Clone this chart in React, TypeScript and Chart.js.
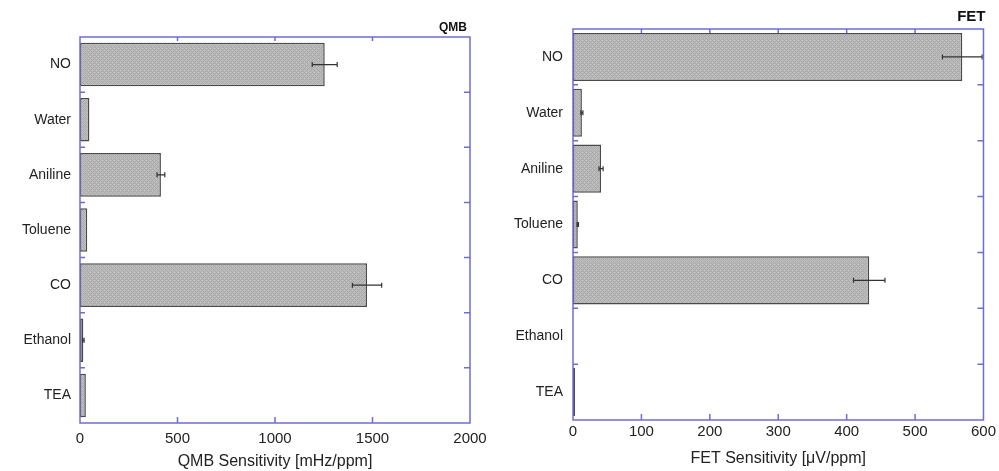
import React, { useEffect, useRef } from "react";
import { Chart, registerables } from "chart.js";

Chart.register(...registerables);

const CATEGORIES = ["NO", "Water", "Aniline", "Toluene", "CO", "Ethanol", "TEA"];

const QMB_VALUES = [1255, 48, 415, 37, 1472, 17, 30];
const QMB_ERRORS = [64, 0, 20, 0, 75, 4, 0];
const QMB_MAX = 2000;
const QMB_STEP = 500;

const FET_VALUES = [569, 13, 41, 7, 433, 0, 3];
const FET_ERRORS = [29, 1.5, 3, 1, 23, 0, 0];
const FET_MAX = 600;
const FET_STEP = 100;

const FONT = "'Liberation Sans', Arial, Helvetica, sans-serif";
const FRAME = "#6d6dd2";

function makePattern(): CanvasPattern | string {
  const c = document.createElement("canvas");
  c.width = 4;
  c.height = 4;
  const g = c.getContext("2d");
  if (!g) return "#b5b5b5";
  g.fillStyle = "#bcbcbc";
  g.fillRect(0, 0, 4, 4);
  g.fillStyle = "#a9a9a9";
  for (let x = 0; x < 4; x++) {
    for (let y = 0; y < 4; y++) {
      if ((x + y) % 4 === 0 || (x - y + 4) % 4 === 0) g.fillRect(x, y, 1, 1);
    }
  }
  const p = g.createPattern(c, "repeat");
  return p || "#b5b5b5";
}

type PanelCfg = {
  width: number;
  height: number;
  values: number[];
  errors: number[];
  max: number;
  step: number;
  axisTitle: string;
  title: string;
  titleSize: number;
  titleDx: number;
  titleY: number;
  yAxisWidth: number;
  padTop: number;
  padRight: number;
  xAxisHeight: number;
  tickPad: number;
  titlePadBottom: number;
  barPct: number;
  labelPad: number;
};

function Panel({ cfg, left }: { cfg: PanelCfg; left: number }) {
  const ref = useRef<HTMLCanvasElement | null>(null);
  useEffect(() => {
    const canvas = ref.current;
    if (!canvas) return;

    const overlay = {
      id: "overlay",
      afterDatasetsDraw(chart: any) {
        const ctx = chart.ctx;
        const xs = chart.scales.x;
        const ys = chart.scales.y;
        ctx.save();
        ctx.strokeStyle = "#333333";
        ctx.lineWidth = 1.2;
        cfg.values.forEach((v, i) => {
          const e = cfg.errors[i];
          if (!e) return;
          const y = ys.getPixelForValue(i);
          const x1 = xs.getPixelForValue(v - e);
          const x2 = xs.getPixelForValue(v + e);
          ctx.beginPath();
          ctx.moveTo(x1, y);
          ctx.lineTo(x2, y);
          ctx.moveTo(x1, y - 2.5);
          ctx.lineTo(x1, y + 2.5);
          ctx.moveTo(x2, y - 2.5);
          ctx.lineTo(x2, y + 2.5);
          ctx.stroke();
        });
        ctx.restore();
      },
      afterDraw(chart: any) {
        const ctx = chart.ctx;
        const { left: l, right: r, top: t, bottom: b } = chart.chartArea;
        const xs = chart.scales.x;
        const ys = chart.scales.y;
        ctx.save();
        ctx.strokeStyle = FRAME;
        ctx.lineWidth = 1.5;
        ctx.strokeRect(l, t, r - l, b - t);
        ctx.beginPath();
        xs.ticks.forEach((tk: any) => {
          const x = xs.getPixelForValue(tk.value);
          if (x <= l + 1 || x >= r - 1) return;
          ctx.moveTo(x, b);
          ctx.lineTo(x, b - 6);
          ctx.moveTo(x, t);
          ctx.lineTo(x, t + 4);
        });
        for (let i = 0; i < CATEGORIES.length - 1; i++) {
          const y = (ys.getPixelForValue(i) + ys.getPixelForValue(i + 1)) / 2;
          ctx.moveTo(l, y);
          ctx.lineTo(l + 5, y);
          ctx.moveTo(r, y);
          ctx.lineTo(r - 6, y);
        }
        ctx.stroke();
        ctx.fillStyle = "#111111";
        ctx.font = `bold ${cfg.titleSize}px ${FONT}`;
        ctx.textAlign = "right";
        ctx.textBaseline = "alphabetic";
        ctx.fillText(cfg.title, r + cfg.titleDx, cfg.titleY);
        ctx.restore();
      },
    };

    const chart = new Chart(canvas, {
      type: "bar",
      data: {
        labels: CATEGORIES,
        datasets: [
          {
            data: cfg.values,
            backgroundColor: makePattern() as any,
            borderColor: "#4a4a4a",
            borderWidth: 1.5,
            borderSkipped: false,
            barPercentage: cfg.barPct,
            categoryPercentage: 1,
          },
        ],
      },
      options: {
        indexAxis: "y",
        responsive: false,
        animation: false,
        devicePixelRatio: 1,
        layout: { padding: { top: cfg.padTop, right: cfg.padRight, bottom: 0, left: 0 } },
        plugins: { legend: { display: false }, tooltip: { enabled: false }, title: { display: false } },
        scales: {
          x: {
            type: "linear",
            min: 0,
            max: cfg.max,
            grid: { display: false, drawTicks: false },
            border: { display: false },
            ticks: {
              stepSize: cfg.step,
              padding: cfg.tickPad,
              color: "#222222",
              font: { family: FONT, size: 15 },
              maxRotation: 0,
              callback: (v: any) => String(v),
            },
            title: {
              display: true,
              text: cfg.axisTitle,
              color: "#222222",
              font: { family: FONT, size: 16 },
              padding: { top: 0, bottom: cfg.titlePadBottom },
            },
            afterFit: (s: any) => {
              s.height = cfg.xAxisHeight;
            },
          },
          y: {
            type: "category",
            offset: true,
            grid: { display: false, drawTicks: false },
            border: { display: false },
            ticks: {
              padding: cfg.labelPad,
              color: "#222222",
              font: { family: FONT, size: 14 },
            },
            afterFit: (s: any) => {
              s.width = cfg.yAxisWidth;
            },
          },
        },
      },
      plugins: [overlay],
    } as any);
    return () => chart.destroy();
  }, [cfg]);

  return (
    <canvas
      ref={ref}
      width={cfg.width}
      height={cfg.height}
      style={{ position: "absolute", left, top: 0, width: cfg.width, height: cfg.height }}
    />
  );
}

const QMB_CFG: PanelCfg = {
  width: 500,
  height: 471,
  values: QMB_VALUES,
  errors: QMB_ERRORS,
  max: QMB_MAX,
  step: QMB_STEP,
  axisTitle: "QMB Sensitivity [mHz/ppm]",
  title: "QMB",
  titleSize: 12,
  titleDx: -3,
  titleY: 31,
  yAxisWidth: 80,
  padTop: 37,
  padRight: 30,
  xAxisHeight: 48,
  tickPad: 7,
  titlePadBottom: 0,
  barPct: 0.79,
  labelPad: 9,
};

const FET_CFG: PanelCfg = {
  width: 499,
  height: 471,
  values: FET_VALUES,
  errors: FET_ERRORS,
  max: FET_MAX,
  step: FET_STEP,
  axisTitle: "FET Sensitivity [\u03bcV/ppm]",
  title: "FET",
  titleSize: 15,
  titleDx: 2,
  titleY: 21,
  yAxisWidth: 73,
  padTop: 29,
  padRight: 15,
  xAxisHeight: 51,
  tickPad: 3,
  titlePadBottom: 3,
  barPct: 0.86,
  labelPad: 10,
};

export default function App() {
  return (
    <div style={{ position: "absolute", left: 0, top: 0, width: 999, height: 471, background: "#ffffff" }}>
      <Panel cfg={QMB_CFG} left={0} />
      <Panel cfg={FET_CFG} left={500} />
    </div>
  );
}
